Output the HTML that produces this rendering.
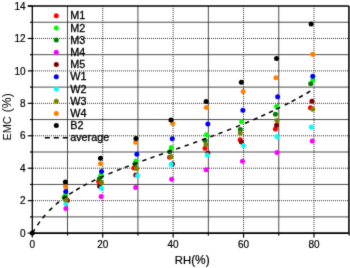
<!DOCTYPE html><html><head><meta charset="utf-8"><style>html,body{margin:0;padding:0;background:#fff;width:350px;height:268px;overflow:hidden}svg{display:block}text{font-family:"Liberation Sans",sans-serif;fill:#000}.lg{stroke:#000;stroke-width:0.3px}.tl{stroke:#000;stroke-width:0.2px}</style></head><body>
<svg width="350" height="268" viewBox="0 0 350 268">
<defs><filter id="bl" color-interpolation-filters="sRGB" filterUnits="userSpaceOnUse" x="0" y="0" width="350" height="268"><feConvolveMatrix order="3" kernelMatrix="0.0113 0.0838 0.0113 0.0838 0.6193 0.0838 0.0113 0.0838 0.0113" preserveAlpha="true" edgeMode="duplicate"/></filter></defs><g filter="url(#bl)"><rect x="0" y="0" width="350" height="268" fill="#fff"/>
<line x1="32.3" y1="216.88" x2="348.9" y2="216.88" stroke="#3a3a3a" stroke-width="0.9"/>
<line x1="33" y1="200.66" x2="349" y2="200.66" stroke="#333" stroke-width="1" stroke-dasharray="1 1"/>
<line x1="32.3" y1="184.44" x2="348.9" y2="184.44" stroke="#3a3a3a" stroke-width="0.9"/>
<line x1="33" y1="168.22" x2="349" y2="168.22" stroke="#333" stroke-width="1" stroke-dasharray="1 1"/>
<line x1="32.3" y1="152.00" x2="348.9" y2="152.00" stroke="#3a3a3a" stroke-width="0.9"/>
<line x1="33" y1="135.78" x2="349" y2="135.78" stroke="#333" stroke-width="1" stroke-dasharray="1 1"/>
<line x1="32.3" y1="119.56" x2="348.9" y2="119.56" stroke="#3a3a3a" stroke-width="0.9"/>
<line x1="33" y1="103.34" x2="349" y2="103.34" stroke="#333" stroke-width="1" stroke-dasharray="1 1"/>
<line x1="32.3" y1="87.12" x2="348.9" y2="87.12" stroke="#3a3a3a" stroke-width="0.9"/>
<line x1="33" y1="70.90" x2="349" y2="70.90" stroke="#333" stroke-width="1" stroke-dasharray="1 1"/>
<line x1="32.3" y1="54.68" x2="348.9" y2="54.68" stroke="#3a3a3a" stroke-width="0.9"/>
<line x1="33" y1="38.46" x2="349" y2="38.46" stroke="#333" stroke-width="1" stroke-dasharray="1 1"/>
<line x1="32.3" y1="22.24" x2="348.9" y2="22.24" stroke="#3a3a3a" stroke-width="0.9"/>
<line x1="67.51" y1="6.02" x2="67.51" y2="233.1" stroke="#3a3a3a" stroke-width="0.9"/>
<line x1="102.72" y1="6" x2="102.72" y2="233" stroke="#333" stroke-width="1" stroke-dasharray="1 1"/>
<line x1="137.93" y1="6.02" x2="137.93" y2="233.1" stroke="#3a3a3a" stroke-width="0.9"/>
<line x1="173.14" y1="6" x2="173.14" y2="233" stroke="#333" stroke-width="1" stroke-dasharray="1 1"/>
<line x1="208.35" y1="6.02" x2="208.35" y2="233.1" stroke="#3a3a3a" stroke-width="0.9"/>
<line x1="243.56" y1="6" x2="243.56" y2="233" stroke="#333" stroke-width="1" stroke-dasharray="1 1"/>
<line x1="278.77" y1="6.02" x2="278.77" y2="233.1" stroke="#3a3a3a" stroke-width="0.9"/>
<line x1="313.98" y1="6" x2="313.98" y2="233" stroke="#333" stroke-width="1" stroke-dasharray="1 1"/>
<line x1="32.3" y1="6.02" x2="32.3" y2="233.1" stroke="#000" stroke-width="1.3"/>
<line x1="27.80" y1="6.02" x2="348.9" y2="6.02" stroke="#000" stroke-width="1.5"/>
<line x1="32.3" y1="233.1" x2="348.9" y2="233.1" stroke="#000" stroke-width="1.8"/>
<line x1="348.9" y1="6.02" x2="348.9" y2="233.1" stroke="#000" stroke-width="1.5"/>
<line x1="27.80" y1="233.10" x2="32.3" y2="233.10" stroke="#000" stroke-width="1.2"/>
<line x1="30.00" y1="216.88" x2="32.3" y2="216.88" stroke="#000" stroke-width="1.2"/>
<line x1="27.80" y1="200.66" x2="32.3" y2="200.66" stroke="#000" stroke-width="1.2"/>
<line x1="30.00" y1="184.44" x2="32.3" y2="184.44" stroke="#000" stroke-width="1.2"/>
<line x1="27.80" y1="168.22" x2="32.3" y2="168.22" stroke="#000" stroke-width="1.2"/>
<line x1="30.00" y1="152.00" x2="32.3" y2="152.00" stroke="#000" stroke-width="1.2"/>
<line x1="27.80" y1="135.78" x2="32.3" y2="135.78" stroke="#000" stroke-width="1.2"/>
<line x1="30.00" y1="119.56" x2="32.3" y2="119.56" stroke="#000" stroke-width="1.2"/>
<line x1="27.80" y1="103.34" x2="32.3" y2="103.34" stroke="#000" stroke-width="1.2"/>
<line x1="30.00" y1="87.12" x2="32.3" y2="87.12" stroke="#000" stroke-width="1.2"/>
<line x1="27.80" y1="70.90" x2="32.3" y2="70.90" stroke="#000" stroke-width="1.2"/>
<line x1="30.00" y1="54.68" x2="32.3" y2="54.68" stroke="#000" stroke-width="1.2"/>
<line x1="27.80" y1="38.46" x2="32.3" y2="38.46" stroke="#000" stroke-width="1.2"/>
<line x1="30.00" y1="22.24" x2="32.3" y2="22.24" stroke="#000" stroke-width="1.2"/>
<line x1="27.80" y1="6.02" x2="32.3" y2="6.02" stroke="#000" stroke-width="1.2"/>
<line x1="32.30" y1="233.1" x2="32.30" y2="237.60" stroke="#000" stroke-width="1.2"/>
<line x1="67.51" y1="233.1" x2="67.51" y2="235.40" stroke="#000" stroke-width="1.2"/>
<line x1="102.72" y1="233.1" x2="102.72" y2="237.60" stroke="#000" stroke-width="1.2"/>
<line x1="137.93" y1="233.1" x2="137.93" y2="235.40" stroke="#000" stroke-width="1.2"/>
<line x1="173.14" y1="233.1" x2="173.14" y2="237.60" stroke="#000" stroke-width="1.2"/>
<line x1="208.35" y1="233.1" x2="208.35" y2="235.40" stroke="#000" stroke-width="1.2"/>
<line x1="243.56" y1="233.1" x2="243.56" y2="237.60" stroke="#000" stroke-width="1.2"/>
<line x1="278.77" y1="233.1" x2="278.77" y2="235.40" stroke="#000" stroke-width="1.2"/>
<line x1="313.98" y1="233.1" x2="313.98" y2="237.60" stroke="#000" stroke-width="1.2"/>
<line x1="349.19" y1="233.1" x2="349.19" y2="235.40" stroke="#000" stroke-width="1.2"/>
<text x="25.6" y="236.70" class="tl" font-size="10" text-anchor="end">0</text>
<text x="25.6" y="204.26" class="tl" font-size="10" text-anchor="end">2</text>
<text x="25.6" y="171.82" class="tl" font-size="10" text-anchor="end">4</text>
<text x="25.6" y="139.38" class="tl" font-size="10" text-anchor="end">6</text>
<text x="25.6" y="106.94" class="tl" font-size="10" text-anchor="end">8</text>
<text x="25.6" y="74.50" class="tl" font-size="10" text-anchor="end">10</text>
<text x="25.6" y="42.06" class="tl" font-size="10" text-anchor="end">12</text>
<text x="25.6" y="9.62" class="tl" font-size="10" text-anchor="end">14</text>
<text x="32.30" y="247.5" class="tl" font-size="10" text-anchor="middle">0</text>
<text x="102.72" y="247.5" class="tl" font-size="10" text-anchor="middle">20</text>
<text x="173.14" y="247.5" class="tl" font-size="10" text-anchor="middle">40</text>
<text x="243.56" y="247.5" class="tl" font-size="10" text-anchor="middle">60</text>
<text x="313.98" y="247.5" class="tl" font-size="10" text-anchor="middle">80</text>
<text class="tl" x="174.8" y="264.2" font-size="11.3">RH<tspan font-size="11.9">(%)</tspan></text>
<text transform="translate(10.6,140.5) rotate(-90) scale(0.95,1)" font-size="11.5">EMC<tspan font-size="12.9" dx="4.2">(%)</tspan></text>
<circle cx="56.3" cy="15.70" r="2.5" fill="#ff0000"/>
<text class="lg" x="70.2" y="19.30" font-size="10.8">M1</text>
<circle cx="56.3" cy="27.91" r="2.5" fill="#00ff00"/>
<text class="lg" x="70.2" y="31.51" font-size="10.8">M2</text>
<circle cx="56.3" cy="40.12" r="2.5" fill="#008000"/>
<text class="lg" x="70.2" y="43.72" font-size="10.8">M3</text>
<circle cx="56.3" cy="52.33" r="2.5" fill="#ff00ff"/>
<text class="lg" x="70.2" y="55.93" font-size="10.8">M4</text>
<circle cx="56.3" cy="64.54" r="2.5" fill="#800000"/>
<text class="lg" x="70.2" y="68.14" font-size="10.8">M5</text>
<circle cx="56.3" cy="76.75" r="2.5" fill="#0000ff"/>
<text class="lg" x="70.2" y="80.35" font-size="10.8">W1</text>
<circle cx="56.3" cy="88.96" r="2.5" fill="#00ffff"/>
<text class="lg" x="70.2" y="92.56" font-size="10.8">W2</text>
<circle cx="56.3" cy="101.17" r="2.5" fill="#808000"/>
<text class="lg" x="70.2" y="104.77" font-size="10.8">W3</text>
<circle cx="56.3" cy="113.38" r="2.5" fill="#ff8000"/>
<text class="lg" x="70.2" y="116.98" font-size="10.8">W4</text>
<circle cx="56.3" cy="125.59" r="2.5" fill="#000000"/>
<text class="lg" x="70.2" y="129.19" font-size="10.8">B2</text>
<line x1="44.8" y1="137.80" x2="68" y2="137.80" stroke="#000" stroke-width="1.4" stroke-dasharray="5 4"/>
<text class="lg" x="70.2" y="141.40" font-size="10.8">average</text>
<circle cx="67.05" cy="200.30" r="2.5" fill="#ff0000"/>
<circle cx="98.65" cy="181.50" r="2.5" fill="#ff0000"/>
<circle cx="133.95" cy="167.90" r="2.5" fill="#ff0000"/>
<circle cx="169.55" cy="157.30" r="2.5" fill="#ff0000"/>
<circle cx="205.05" cy="148.20" r="2.5" fill="#ff0000"/>
<circle cx="240.15" cy="139.70" r="2.5" fill="#ff0000"/>
<circle cx="275.35" cy="129.10" r="2.5" fill="#ff0000"/>
<circle cx="310.45" cy="107.70" r="2.5" fill="#ff0000"/>
<circle cx="65.55" cy="195.10" r="2.5" fill="#00ff00"/>
<circle cx="100.75" cy="175.40" r="2.5" fill="#00ff00"/>
<circle cx="135.95" cy="161.00" r="2.5" fill="#00ff00"/>
<circle cx="171.25" cy="147.40" r="2.5" fill="#00ff00"/>
<circle cx="206.45" cy="134.70" r="2.5" fill="#00ff00"/>
<circle cx="241.65" cy="121.70" r="2.5" fill="#00ff00"/>
<circle cx="276.55" cy="106.50" r="2.5" fill="#00ff00"/>
<circle cx="312.85" cy="80.10" r="2.5" fill="#00ff00"/>
<circle cx="64.25" cy="197.50" r="2.5" fill="#008000"/>
<circle cx="99.35" cy="178.70" r="2.5" fill="#008000"/>
<circle cx="134.85" cy="164.00" r="2.5" fill="#008000"/>
<circle cx="169.75" cy="151.70" r="2.5" fill="#008000"/>
<circle cx="205.05" cy="140.50" r="2.5" fill="#008000"/>
<circle cx="240.35" cy="129.60" r="2.5" fill="#008000"/>
<circle cx="275.45" cy="114.20" r="2.5" fill="#008000"/>
<circle cx="310.65" cy="83.70" r="2.5" fill="#008000"/>
<circle cx="65.85" cy="208.40" r="2.5" fill="#ff00ff"/>
<circle cx="101.15" cy="196.40" r="2.5" fill="#ff00ff"/>
<circle cx="135.65" cy="187.50" r="2.5" fill="#ff00ff"/>
<circle cx="171.65" cy="179.30" r="2.5" fill="#ff00ff"/>
<circle cx="206.15" cy="169.70" r="2.5" fill="#ff00ff"/>
<circle cx="242.45" cy="161.30" r="2.5" fill="#ff00ff"/>
<circle cx="276.95" cy="152.40" r="2.5" fill="#ff00ff"/>
<circle cx="312.25" cy="140.90" r="2.5" fill="#ff00ff"/>
<circle cx="67.25" cy="200.50" r="2.5" fill="#800000"/>
<circle cx="99.55" cy="186.20" r="2.5" fill="#800000"/>
<circle cx="135.75" cy="175.10" r="2.5" fill="#800000"/>
<circle cx="172.45" cy="164.00" r="2.5" fill="#800000"/>
<circle cx="207.85" cy="153.10" r="2.5" fill="#800000"/>
<circle cx="241.35" cy="141.90" r="2.5" fill="#800000"/>
<circle cx="276.55" cy="125.20" r="2.5" fill="#800000"/>
<circle cx="311.95" cy="101.20" r="2.5" fill="#800000"/>
<circle cx="65.75" cy="191.60" r="2.5" fill="#0000ff"/>
<circle cx="101.55" cy="171.50" r="2.5" fill="#0000ff"/>
<circle cx="136.85" cy="154.30" r="2.5" fill="#0000ff"/>
<circle cx="172.25" cy="138.70" r="2.5" fill="#0000ff"/>
<circle cx="207.85" cy="123.90" r="2.5" fill="#0000ff"/>
<circle cx="242.85" cy="110.20" r="2.5" fill="#0000ff"/>
<circle cx="277.65" cy="96.80" r="2.5" fill="#0000ff"/>
<circle cx="312.75" cy="76.20" r="2.5" fill="#0000ff"/>
<circle cx="65.85" cy="203.70" r="2.5" fill="#00ffff"/>
<circle cx="101.45" cy="188.30" r="2.5" fill="#00ffff"/>
<circle cx="137.45" cy="175.70" r="2.5" fill="#00ffff"/>
<circle cx="171.05" cy="164.60" r="2.5" fill="#00ffff"/>
<circle cx="207.25" cy="155.10" r="2.5" fill="#00ffff"/>
<circle cx="243.45" cy="145.40" r="2.5" fill="#00ffff"/>
<circle cx="276.95" cy="136.40" r="2.5" fill="#00ffff"/>
<circle cx="311.25" cy="126.90" r="2.5" fill="#00ffff"/>
<circle cx="65.85" cy="200.10" r="2.5" fill="#808000"/>
<circle cx="101.45" cy="182.50" r="2.5" fill="#808000"/>
<circle cx="136.55" cy="168.50" r="2.5" fill="#808000"/>
<circle cx="170.95" cy="156.70" r="2.5" fill="#808000"/>
<circle cx="205.95" cy="144.60" r="2.5" fill="#808000"/>
<circle cx="240.25" cy="133.00" r="2.5" fill="#808000"/>
<circle cx="276.95" cy="120.50" r="2.5" fill="#808000"/>
<circle cx="312.75" cy="109.20" r="2.5" fill="#808000"/>
<circle cx="65.55" cy="186.60" r="2.5" fill="#ff8000"/>
<circle cx="100.45" cy="163.80" r="2.5" fill="#ff8000"/>
<circle cx="135.65" cy="142.20" r="2.5" fill="#ff8000"/>
<circle cx="172.65" cy="123.60" r="2.5" fill="#ff8000"/>
<circle cx="206.45" cy="107.50" r="2.5" fill="#ff8000"/>
<circle cx="243.15" cy="91.40" r="2.5" fill="#ff8000"/>
<circle cx="275.95" cy="77.70" r="2.5" fill="#ff8000"/>
<circle cx="312.65" cy="54.30" r="2.5" fill="#ff8000"/>
<circle cx="65.35" cy="181.90" r="2.5" fill="#000000"/>
<circle cx="100.45" cy="158.30" r="2.5" fill="#000000"/>
<circle cx="135.95" cy="138.60" r="2.5" fill="#000000"/>
<circle cx="170.95" cy="119.90" r="2.5" fill="#000000"/>
<circle cx="206.15" cy="101.50" r="2.5" fill="#000000"/>
<circle cx="241.35" cy="82.30" r="2.5" fill="#000000"/>
<circle cx="276.55" cy="58.50" r="2.5" fill="#000000"/>
<circle cx="311.15" cy="23.90" r="2.5" fill="#000000"/>
<circle cx="32.3" cy="233.1" r="2.5" fill="#000"/>
<path d="M32.50,233.00 L33.38,231.49 L34.26,230.03 L35.14,228.61 L36.02,227.24 L36.89,225.92 L37.77,224.63 L38.65,223.38 L39.53,222.17 L40.41,220.99 L41.29,219.84 L42.17,218.72 L43.05,217.64 L43.93,216.58 L44.80,215.55 L45.68,214.55 L46.56,213.57 L47.44,212.61 L48.32,211.68 L49.20,210.77 L50.08,209.88 L51.84,208.16 L53.59,206.51 L55.35,204.93 L57.11,203.41 L58.87,201.95 L60.62,200.54 L62.38,199.19 L64.14,197.88 L65.90,196.61 L67.66,195.39 L69.41,194.20 L71.17,193.05 L72.93,191.93 L74.69,190.84 L76.44,189.78 L78.20,188.75 L79.96,187.75 L81.72,186.77 L83.48,185.81 L85.23,184.87 L86.99,183.95 L88.75,183.06 L90.51,182.17 L92.27,181.31 L94.02,180.46 L95.78,179.63 L97.54,178.81 L99.30,178.01 L101.05,177.22 L102.81,176.44 L104.57,175.67 L106.33,174.91 L108.09,174.16 L109.84,173.42 L111.60,172.70 L113.36,171.97 L115.12,171.26 L116.87,170.56 L118.63,169.86 L120.39,169.17 L122.15,168.48 L123.91,167.81 L125.66,167.13 L127.42,166.47 L129.18,165.80 L130.94,165.15 L132.69,164.49 L134.45,163.84 L136.21,163.20 L137.97,162.56 L139.73,161.92 L141.48,161.28 L143.24,160.65 L145.00,160.02 L146.76,159.39 L148.51,158.77 L150.27,158.14 L152.03,157.52 L153.79,156.90 L155.55,156.29 L157.30,155.67 L159.06,155.05 L160.82,154.44 L162.58,153.82 L164.34,153.21 L166.09,152.59 L167.85,151.98 L169.61,151.37 L171.37,150.75 L173.12,150.14 L174.88,149.53 L176.64,148.91 L178.40,148.30 L180.16,147.68 L181.91,147.06 L183.67,146.44 L185.43,145.82 L187.19,145.20 L188.94,144.58 L190.70,143.96 L192.46,143.33 L194.22,142.71 L195.98,142.08 L197.73,141.45 L199.49,140.81 L201.25,140.18 L203.01,139.54 L204.76,138.90 L206.52,138.26 L208.28,137.61 L210.04,136.96 L211.80,136.31 L213.55,135.66 L215.31,135.00 L217.07,134.34 L218.83,133.67 L220.58,133.01 L222.34,132.34 L224.10,131.66 L225.86,130.98 L227.62,130.30 L229.37,129.61 L231.13,128.92 L232.89,128.22 L234.65,127.52 L236.40,126.82 L238.16,126.11 L239.92,125.39 L241.68,124.67 L243.44,123.95 L245.19,123.22 L246.95,122.48 L248.71,121.74 L250.47,120.99 L252.22,120.24 L253.98,119.48 L255.74,118.72 L257.50,117.95 L259.26,117.17 L261.01,116.39 L262.77,115.60 L264.53,114.80 L266.29,114.00 L268.05,113.19 L269.80,112.37 L271.56,111.55 L273.32,110.72 L275.08,109.88 L276.83,109.03 L278.59,108.17 L280.35,107.31 L282.11,106.44 L283.87,105.56 L285.62,104.67 L287.38,103.77 L289.14,102.86 L290.90,101.95 L292.65,101.02 L294.41,100.09 L296.17,99.14 L297.93,98.19 L299.69,97.22 L301.44,96.25 L303.20,95.26 L304.96,94.26 L306.72,93.25 L308.47,92.23 L310.23,91.20 L311.99,90.16 L313.75,89.10" fill="none" stroke="#000" stroke-width="1.5" stroke-dasharray="0.00 0.00 4.35 4.80 4.40 4.20 4.40 5.70 4.40 4.70 4.40 5.10 4.40 3.00 4.40 3.70 4.40 4.00 4.40 4.60 4.40 5.00 4.40 5.00 4.40 4.80 4.40 3.80 4.40 4.90 4.40 5.10 4.40 4.20 4.40 4.60 4.40 4.70 4.40 4.70 4.40 4.70 4.40 4.60 4.40 4.80 4.40 4.70 4.40 4.20 4.40 4.90 4.40 5.20 4.40 5.20 4.40 4.90 4.40 4.10 4.40 4.10 4.40 3.60 4.40 5.10 4.40 3.40 4.40 3.90 4.40 4.30 4.40 100.00"/>
</g></svg></body></html>
